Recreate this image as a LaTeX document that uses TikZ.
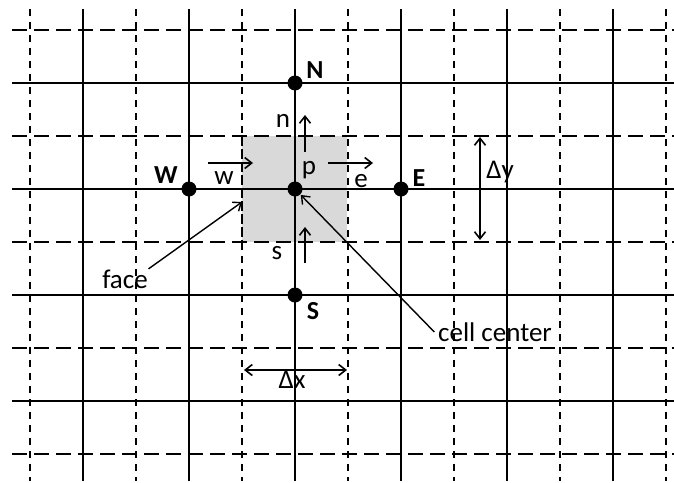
\documentclass[tikz,border=0pt]{standalone}
\usepackage{fontspec}
\setmainfont{Carlito}
\usetikzlibrary{arrows.meta}

\tikzset{
	dot/.style={circle, fill=black, minimum size=15pt, inner sep=0pt},
	hdash/.style={dash pattern=on 15pt off 7pt},
	vdash/.style={dash pattern=on 7pt off 6pt},
	lab/.style={inner sep=0pt},
	bold/.style={inner sep=0pt, font=\fontsize{26}{30}\selectfont\bfseries},
}

\begin{document}
\begin{tikzpicture}[x=1pt, y=-1pt, line width=1.6pt, every node/.style={font=\fontsize{27}{31}\selectfont}, >={Straight Barb[length=7pt,width=11pt]}]
	\useasboundingbox (0,0) rectangle (674,482);
	\fill[black!15] (242,136) rectangle (347,242);
	\foreach \y in {83,189,...,401} \draw (12,\y) -- (674,\y);
	\foreach \y in {30,136,...,454} \draw[hdash] (12,\y) -- (674,\y);
	\foreach \x in {83,189,...,613} \draw (\x,9) -- (\x,481);
	\foreach \x in {30,136,...,666} \draw[vdash] (\x,9) -- (\x,481);
	\draw[vdash, line width=2.6pt] (242,136) -- (242,242);
	\node[dot] (N) at (295,83) {};
	\node[dot] (W) at (189,189) {};
	\node[dot] (P) at (295,189) {};
	\node[dot] (E) at (401,189) {};
	\node[dot] (S) at (295,295) {};
	\node[bold] at (315,70) {N};
	\node[bold] at (166,175) {W};
	\node[bold] at (419,178) {E};
	\node[bold] at (313,311) {S};
	\node[lab] at (283,121) {n};
	\node[lab] at (224,178) {w};
	\node[lab] at (309,170) {p};
	\node[lab] at (361,181) {e};
	\node[lab] at (277,253) {s};
	\coordinate (wa) at (208,163); \coordinate (wb) at (253,163);
	\coordinate (ea) at (328,163); \coordinate (eb) at (373,163);
	\coordinate (na) at (305,152); \coordinate (nb) at (305,115);
	\coordinate (sa) at (305,263); \coordinate (sb) at (305,227);
	\draw[->] (wa) -- (wb);
	\draw[->] (ea) -- (eb);
	\draw[->] (na) -- (nb);
	\draw[->] (sa) -- (sb);
	\node[lab] (face) at (125,279) {face};
	\coordinate (fc) at (242,202);
	\draw[->, line width=1.4pt] (face.north east) -- (fc);
	\node[inner sep=3pt] (cc) at (495,332) {cell center};
	\draw[->, line width=1.4pt] (cc.west) -- (P);
	\coordinate (dxa) at (244,370); \coordinate (dxb) at (347,370);
	\draw[<->] (dxa) -- (dxb);
	\node[lab] at (292,380) {Δx};
	\coordinate (dya) at (480,137); \coordinate (dyb) at (480,240);
	\draw[<->] (dya) -- (dyb);
	\node[lab] at (500,172) {Δy};
\end{tikzpicture}
\end{document}
